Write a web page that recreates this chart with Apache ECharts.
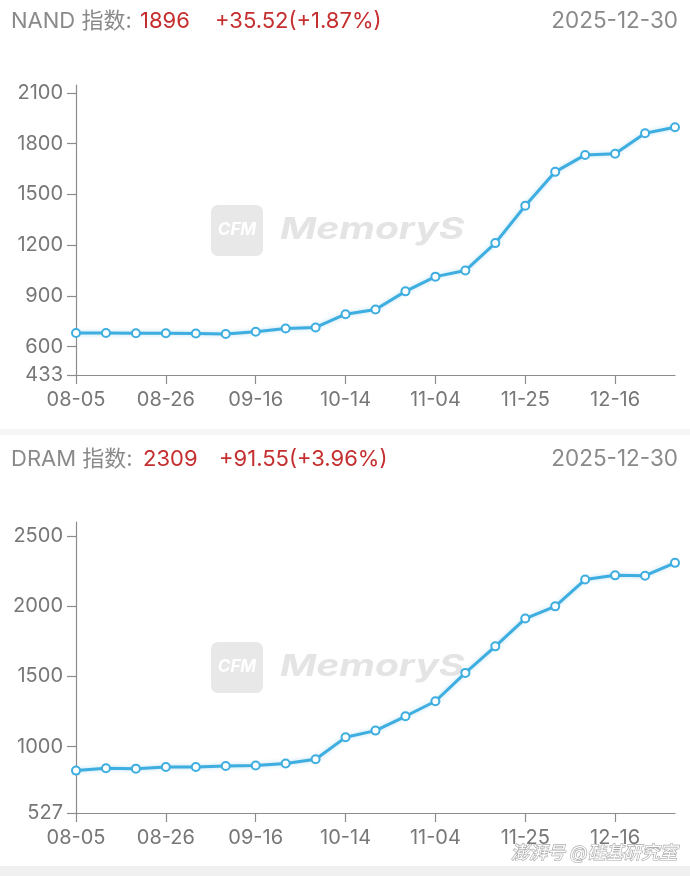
<!DOCTYPE html>
<html>
<head>
<meta charset="utf-8">
<script src="https://cdn.jsdelivr.net/npm/echarts@6/dist/echarts.min.js"></script>
<style>
html,body{margin:0;padding:0;background:#fff;}
#c{width:690px;height:876px;}
</style>
</head>
<body>
<div id="c"></div>
<script>
// ---- data ----
const dates = ['08-05','08-12','08-19','08-26','09-02','09-09','09-16','09-23','09-30','10-14','10-21','10-28','11-04','11-11','11-18','11-25','12-02','12-09','12-16','12-23','12-30'];
const nandValues = [681,681,680,680,678,675,688,708,714,792,820,927,1014,1050,1212,1433,1633,1733,1740,1860.48,1896];
const dramValues = [829,846,843,855,855,862,865,879,910,1066,1114,1216,1323,1525,1714,1912,1999,2190,2220,2217.45,2309];
const nandTicks = [433,600,900,1200,1500,1800,2100];
const dramTicks = [527,1000,1500,2000,2500];
const nandHeader = {name:'NAND 指数:', value:'1896', change:'+35.52(+1.87%)', date:'2025-12-30'};
const dramHeader = {name:'DRAM 指数:', value:'2309', change:'+91.55(+3.96%)', date:'2025-12-30'};

const FONT = "Inter, 'Noto Sans CJK SC', sans-serif";
const GRAY = '#8a8a8a';
const RED = '#c52f30';
const LINE = '#3eaddf';
const AXIS = '#8c8c8c';

const chart = echarts.init(document.getElementById('c'), null, {renderer:'canvas'});

function header(h, y, vx, cx) {
  return [
    {type:'text', left:11, top:y-13, style:{text:h.name, font:'22px ' + FONT, fill:GRAY}},
    {type:'text', left:vx, top:y-13, style:{text:h.value, font:'22px ' + FONT, fill:RED}},
    {type:'text', left:cx, top:y-13, style:{text:h.change, font:'22px ' + FONT, fill:RED}},
    {type:'text', right:12, top:y-13, style:{text:h.date, font:'22.5px ' + FONT, fill:GRAY}}
  ];
}
function watermark(cy) {
  return [
    {type:'rect', shape:{x:211, y:cy-25, width:52, height:51, r:7}, style:{fill:'#e8e8e8'}, z:0},
    {type:'text', x:237, y:cy, style:{text:'CFM', font:'italic bold 17px ' + FONT, fill:'#fff', align:'center', verticalAlign:'middle'}, z:0},
    {type:'text', x:280, y:cy, scaleX:1.3, style:{text:'MemoryS', font:'italic bold 30px ' + FONT, fill:'#e4e4e4', verticalAlign:'middle'}, z:0}
  ];
}

function yAxis(gi, min, max, ticks) {
  return {
    type:'value', gridIndex:gi, min:min, max:max,
    splitLine:{show:false},
    axisLine:{show:true, lineStyle:{color:AXIS, width:1.2}},
    axisTick:{show:true, length:9, customValues:ticks, lineStyle:{color:AXIS, width:1.2}},
    axisLabel:{customValues:ticks, color:'#777', fontSize:20, fontFamily:FONT, margin:13, formatter:v => String(v)}
  };
}
function xAxis(gi) {
  return {
    type:'category', gridIndex:gi, data:dates, boundaryGap:false,
    axisLine:{show:true, lineStyle:{color:AXIS, width:1.2}},
    axisTick:{show:true, interval:2, length:9, lineStyle:{color:AXIS, width:1.2}},
    axisLabel:{interval:2, color:'#777', fontSize:20, fontFamily:FONT, margin:15}
  };
}
function series(i, data) {
  return {
    type:'line', xAxisIndex:i, yAxisIndex:i, data:data,
    symbol:'emptyCircle', symbolSize:8, showAllSymbol:true,
    lineStyle:{color:LINE, width:3, shadowColor:'rgba(58,170,220,0.35)', shadowBlur:4},
    itemStyle:{color:LINE, borderWidth:2, borderColor:LINE},
    z:5, animation:false
  };
}

chart.setOption({
  animation:false,
  backgroundColor:'#fff',
  graphic:[
    {type:'rect', shape:{x:0, y:429, width:690, height:6}, style:{fill:'#f6f6f6'}, silent:true},
    {type:'rect', shape:{x:0, y:866, width:690, height:10}, style:{fill:'#f0f0f0'}, silent:true},
    ...header(nandHeader, 23, 140, 215),
    ...header(dramHeader, 461, 143, 219),
    ...watermark(230),
    ...watermark(667),
    {type:'text', right:12, top:844, style:{text:'澎湃号 @硅基研究室', font:'italic 18px ' + FONT, fill:'#fff', stroke:'#a8a8a8', lineWidth:1.3}}
  ],
  grid:[
    {left:76, right:15, top:85, height:290},
    {left:76, right:15, top:522, height:291}
  ],
  xAxis:[xAxis(0), xAxis(1)],
  yAxis:[yAxis(0, 433, 2146, nandTicks), yAxis(1, 527, 2600, dramTicks)],
  series:[series(0, nandValues), series(1, dramValues)]
});
</script>
</body>
</html>
